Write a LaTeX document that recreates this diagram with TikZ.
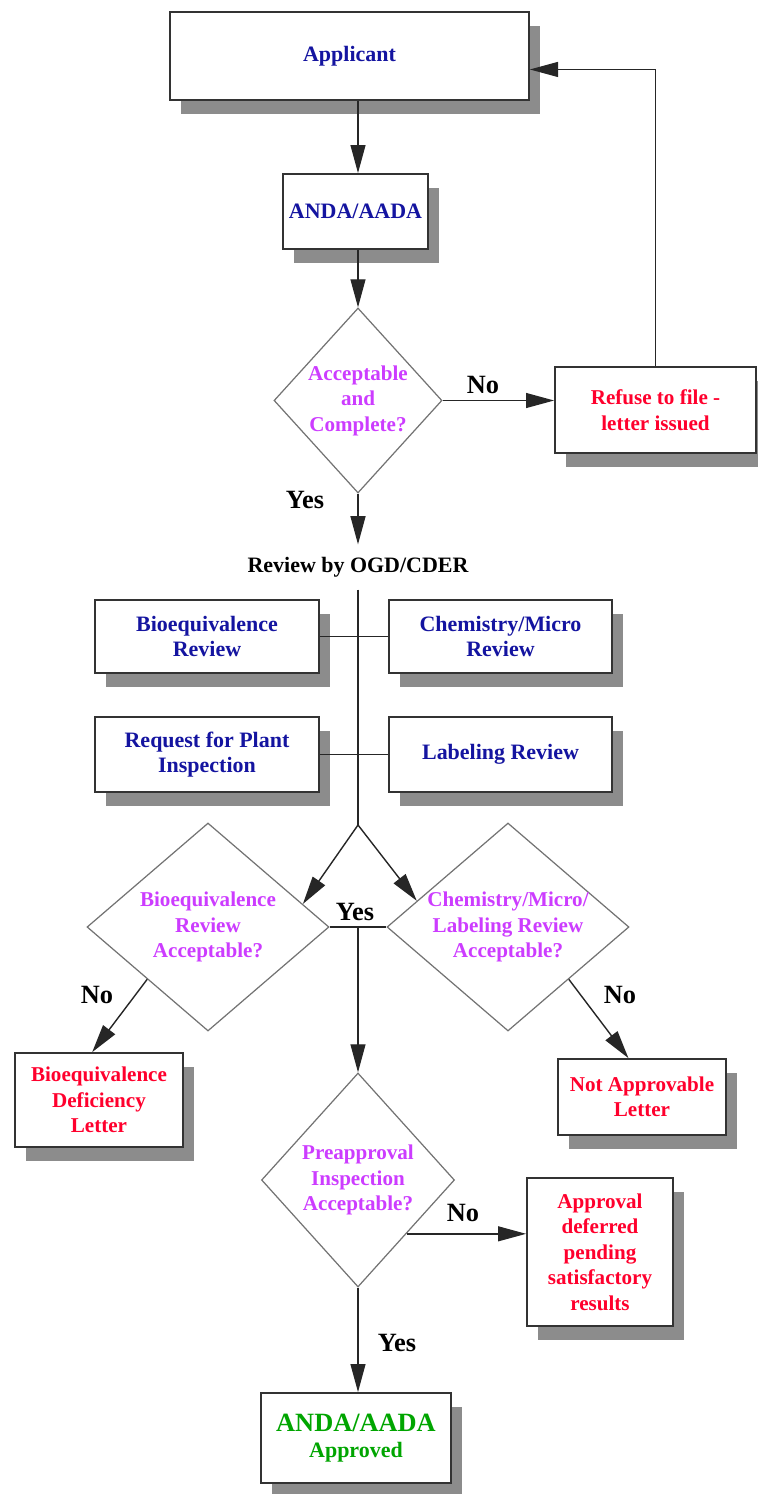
\documentclass[tikz,border=0pt]{standalone}
\usepackage{fontspec}
\setmainfont{Liberation Serif}
\usetikzlibrary{arrows.meta,calc,positioning,shapes.geometric,shadows}
\definecolor{revblue}{RGB}{20,20,160}
\definecolor{askviolet}{RGB}{204,60,255}
\definecolor{letterred}{RGB}{255,0,45}
\definecolor{okgreen}{RGB}{0,165,0}

\begin{document}
\begin{tikzpicture}[x=0.2mm,y=-0.2mm,>={Triangle[length=16pt,width=8.5pt]},
  box/.style={draw=black!80,line width=1pt,fill=white,align=center,inner sep=2pt,
    font=\bfseries\fontsize{12.5}{14.5}\selectfont,
    drop shadow={shadow xshift=6pt,shadow yshift=-8pt,fill=black!45,opacity=1}},
  stepbox/.style={box,text=revblue},
  letterbox/.style={box,text=letterred,font=\bfseries\fontsize{12}{14.5}\selectfont},
  decision/.style={diamond,draw=black!55,line width=0.7pt,inner sep=-6pt,align=center,
    text=askviolet,font=\bfseries\fontsize{12}{14.5}\selectfont},
  answer/.style={font=\bfseries\fontsize{15}{17}\selectfont},
  flow/.style={line width=0.8pt,draw=black!85}]
  \useasboundingbox (0,0) rectangle (757,1494);
  \node[stepbox,minimum width=71.8mm,minimum height=17.6mm] (Applicant) at (349.5,56) {Applicant};
  \node[stepbox,minimum width=29mm,minimum height=15mm] (ANDA) at (355.5,211.5) {ANDA/AADA};
  \node[decision,minimum width=33.6mm,minimum height=37mm] (AccD) at (358,400.5)
     {Acceptable\\and\\Complete?};
  \node[letterbox,minimum width=40.2mm,minimum height=17.2mm] (Refuse) at (655.5,410)
     {Refuse to file -\\letter issued};
  \node[answer] (NoAcc) at (483,385) {No};
  \node[answer] (YesAcc) at (305,500) {Yes};
  \node[font=\bfseries\fontsize{12.5}{14.5}\selectfont,inner sep=7pt] (Review) at (358,567)
     {Review by OGD/CDER};
  \node[stepbox,minimum width=44.8mm,minimum height=14.6mm] (BioRev) at (207,636.5)
     {Bioequivalence\\Review};
  \node[stepbox,minimum width=44.6mm,minimum height=14.6mm] (ChemRev) at (500.5,636.5)
     {Chemistry/Micro\\Review};
  \node[stepbox,minimum width=44.8mm,minimum height=15mm] (PlantReq) at (207,754.5)
     {Request for Plant\\Inspection};
  \node[stepbox,minimum width=44.6mm,minimum height=15mm] (LabRev) at (500.5,754.5)
     {Labeling Review};
  \coordinate (split) at (358,825);
  \node[decision,minimum width=48.4mm,minimum height=41.6mm] (BioD) at (208,927)
     {Bioequivalence\\Review\\Acceptable?};
  \node[decision,minimum width=48.4mm,minimum height=41.6mm] (ChemD) at (508,927)
     {Chemistry/Micro/\\Labeling Review\\Acceptable?};
  \node[answer] (YesBoth) at (355,912) {Yes};
  \node[answer] (NoBio) at (97,995) {No};
  \node[answer] (NoChem) at (620,995) {No};
  \node[letterbox,minimum width=33.6mm,minimum height=18.8mm] (BDL) at (99,1100)
     {Bioequivalence\\Deficiency\\Letter};
  \node[letterbox,minimum width=33.6mm,minimum height=15.2mm] (NAL) at (642,1097)
     {Not Approvable\\Letter};
  \node[decision,minimum width=38.6mm,minimum height=42.8mm] (PreD) at (358,1180)
     {Preapproval\\Inspection\\Acceptable?};
  \node[answer] (NoPre) at (463,1213) {No};
  \node[letterbox,minimum width=29.2mm,minimum height=29.6mm] (ADP) at (600,1252)
     {Approval\\deferred\\pending\\satisfactory\\results};
  \node[answer] (YesPre) at (397,1343) {Yes};
  \node[box,text=okgreen,minimum width=38mm,minimum height=18mm] (Approved) at (356,1438)
     {{\fontsize{15}{17}\selectfont ANDA/AADA}\\Approved};
  % spine and side branches
  \draw[flow,->] (Applicant.south -| AccD.north) -- (ANDA.north -| AccD.north);
  \draw[flow,->] (ANDA.south -| AccD.north) -- (AccD.north);
  \draw[flow,->] (AccD.east) -- (AccD.east -| Refuse.west);
  \draw[flow,->] (Refuse.north) |- ($(Applicant.north east)!0.65!(Applicant.south east)$);
  \draw[flow,->] (AccD.south) -- (AccD.south |- Review.north);
  \draw[flow] (Review.south) -- (split);
  \draw[flow] (BioRev.east) -- (ChemRev.west);
  \draw[flow] (PlantReq.east) -- (LabRev.west);
  \draw[flow,->] (split) -- ($(BioD.north)!0.78!(BioD.east)$);
  \draw[flow,->] (split) -- ($(ChemD.north)!0.75!(ChemD.west)$);
  \draw[flow] (BioD.east) -- (ChemD.west);
  \draw[flow,->] (BioD.east -| split) -- (PreD.north);
  \draw[flow,->] (BioD.south west) -- ($(BDL.north west)!0.46!(BDL.north east)$);
  \draw[flow,->] (ChemD.south east) -- ($(NAL.north west)!0.42!(NAL.north east)$);
  \draw[flow,->] (PreD.south east) -- (PreD.south east -| ADP.west);
  \draw[flow,->] (PreD.south) -- (PreD.south |- Approved.north);
\end{tikzpicture}
\end{document}
